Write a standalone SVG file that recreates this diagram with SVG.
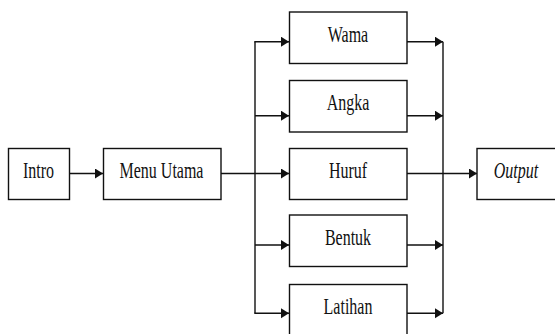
<svg xmlns="http://www.w3.org/2000/svg" width="555" height="334" viewBox="0 0 555 334">
<style>
.box{fill:#fff;stroke:#111;stroke-width:1.4}
.lbl{font-family:"Liberation Serif","Times New Roman",serif;font-size:16px;fill:#111;text-anchor:middle}
.ln{fill:none;stroke:#111;stroke-width:1.4}
</style>
<defs>
<marker id="ah" markerUnits="userSpaceOnUse" markerWidth="9" markerHeight="11" refX="8" refY="5" orient="auto">
<path d="M0,0 L8,5 L0,10 Z" fill="#111"/>
</marker>
</defs>
<rect width="555" height="334" fill="#fff"/>
<g id="connectors">
<line class="ln" x1="69.5" y1="173.5" x2="103" y2="173.5" marker-end="url(#ah)"/>
<line class="ln" x1="221" y1="173.5" x2="289" y2="173.5" marker-end="url(#ah)"/>
<line class="ln" x1="255" y1="41.7" x2="255" y2="313.3"/>
<line class="ln" x1="254.3" y1="41.7" x2="289" y2="41.7" marker-end="url(#ah)"/>
<line class="ln" x1="255" y1="115.7" x2="289" y2="115.7" marker-end="url(#ah)"/>
<line class="ln" x1="255" y1="245" x2="289" y2="245" marker-end="url(#ah)"/>
<line class="ln" x1="254.3" y1="313.3" x2="289" y2="313.3" marker-end="url(#ah)"/>
<line class="ln" x1="407" y1="41.7" x2="443" y2="41.7" marker-end="url(#ah)"/>
<line class="ln" x1="407" y1="115.7" x2="443" y2="115.7" marker-end="url(#ah)"/>
<line class="ln" x1="407" y1="245" x2="443" y2="245" marker-end="url(#ah)"/>
<line class="ln" x1="407" y1="313.3" x2="443" y2="313.3" marker-end="url(#ah)"/>
<line class="ln" x1="443" y1="41.7" x2="443" y2="313.3"/>
<line class="ln" x1="407" y1="173.5" x2="477" y2="173.5" marker-end="url(#ah)"/>
</g>
<g id="intro">
<rect class="box" x="8.5" y="148.5" width="61" height="51"/>
<text class="lbl" transform="translate(38.5,178) scale(1,1.45)">Intro</text>
</g>
<g id="menu-utama">
<rect class="box" x="103.5" y="148.5" width="117.5" height="51"/>
<text class="lbl" transform="translate(161.5,178) scale(1,1.45)">Menu Utama</text>
</g>
<g id="wama">
<rect class="box" x="289.5" y="12" width="117.5" height="51.5"/>
<text class="lbl" transform="translate(348,42.3) scale(1,1.45)">Wama</text>
</g>
<g id="angka">
<rect class="box" x="289.5" y="80.5" width="117.5" height="51.5"/>
<text class="lbl" transform="translate(348,110.3) scale(1,1.45)">Angka</text>
</g>
<g id="huruf">
<rect class="box" x="289.5" y="148.5" width="117.5" height="51"/>
<text class="lbl" transform="translate(348,178) scale(1,1.45)">Huruf</text>
</g>
<g id="bentuk">
<rect class="box" x="289.5" y="215" width="117.5" height="51.5"/>
<text class="lbl" transform="translate(348,245) scale(1,1.45)">Bentuk</text>
</g>
<g id="latihan">
<rect class="box" x="289.5" y="284.5" width="117.5" height="51.5"/>
<text class="lbl" transform="translate(348,313.5) scale(1,1.45)">Latihan</text>
</g>
<g id="output">
<rect class="box" x="477" y="148.5" width="82" height="51"/>
<text class="lbl" font-style="italic" transform="translate(516,177.5) scale(1,1.45)">Output</text>
</g>
</svg>
